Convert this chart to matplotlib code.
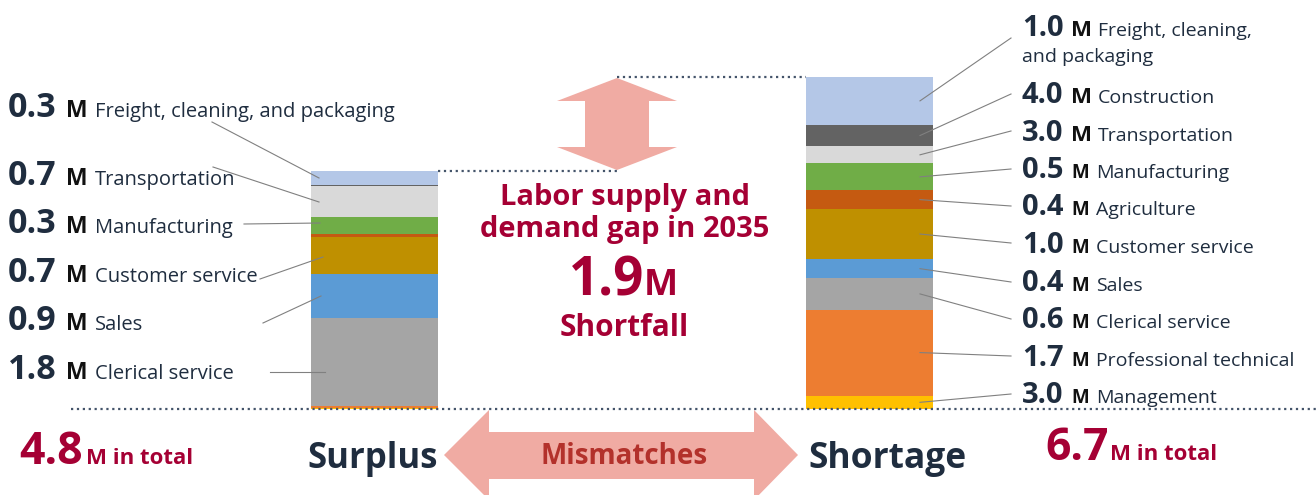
import matplotlib
matplotlib.use('Agg')
import matplotlib.pyplot as plt
from matplotlib.patches import Polygon

plt.rcParams['font.family'] = ['Open Sans', 'DejaVu Sans']

# occupations, bottom to top of each stacked bar
categories = ['Management', 'Professional technical', 'Clerical service', 'Sales',
              'Customer service', 'Agriculture', 'Manufacturing', 'Transportation',
              'Construction', 'Freight, cleaning, and packaging']
surplus = [0.02, 0.05, 1.76, 0.90, 0.75, 0.05, 0.35, 0.62, 0.03, 0.27]
shortage = [0.27, 1.74, 0.63, 0.39, 1.01, 0.38, 0.54, 0.35, 0.43, 0.97]

# labels as printed on the chart (top to bottom)
surplus_label_cats = [9, 7, 6, 4, 3, 2]
surplus_label_vals = ['0.3', '0.7', '0.3', '0.7', '0.9', '1.8']
surplus_label_names = ['Freight, cleaning, and packaging', 'Transportation', 'Manufacturing',
                       'Customer service', 'Sales', 'Clerical service']
shortage_label_cats = [9, 8, 7, 6, 5, 4, 3, 2, 1, 0]
shortage_label_vals = ['1.0', '4.0', '3.0', '0.5', '0.4', '1.0', '0.4', '0.6', '1.7', '3.0']
shortage_label_names = ['Freight, cleaning,\nand packaging', 'Construction', 'Transportation',
                        'Manufacturing', 'Agriculture', 'Customer service', 'Sales',
                        'Clerical service', 'Professional technical', 'Management']
surplus_total = '4.8'
shortage_total = '6.7'
gap = '1.9'

colors = ['#FFC000', '#ED7D31', '#A5A5A5', '#5B9BD5', '#BF9000', '#C55A11',
          '#70AD47', '#D9D9D9', '#636363', '#B4C7E7']
NAVY = '#1F2D3F'
RED = '#A50034'
PINK = '#F0ABA3'
DOT = '#44546A'
LEAD = '#808080'

W, H = 1316, 495
BASE = 409      # pixel row of the zero line
PXM = 49.5      # pixels per million


def row(r):
    return (BASE - r) / PXM


fig = plt.figure(figsize=(W / 100, H / 100), dpi=100)
ax = fig.add_axes([0, 0, 1, 1])
ax.set_xlim(0, W)
ax.set_ylim(row(H), row(0))
ax.axis('off')

bars = {'left': (374.5, surplus), 'right': (869.5, shortage)}
bw = 127
mids = {}
for side, (xc, vals) in bars.items():
    bottom = 0
    mids[side] = []
    for v, c in zip(vals, colors):
        ax.bar(xc, v, bw, bottom=bottom, color=c, linewidth=0, zorder=2)
        mids[side].append(bottom + v / 2)
        bottom += v

# dotted guide lines
top_l = sum(surplus)
top_r = sum(shortage)
ax.plot([71, W], [0, 0], ls=':', color=DOT, lw=1.6, zorder=3)
ax.plot([374.5 + bw / 2, 617], [top_l, top_l], ls=':', color=DOT, lw=1.6, zorder=3)
ax.plot([617, 869.5 - bw / 2], [top_r, top_r], ls=':', color=DOT, lw=1.6, zorder=3)

# vertical double arrow (gap)
yt, yb = row(78), row(170)
hl = 23 / PXM
va = [(617, yt), (677, yt - hl), (649, yt - hl), (649, yb + hl), (677, yb + hl),
      (617, yb), (557, yb + hl), (585, yb + hl), (585, yt - hl), (557, yt - hl)]
ax.add_patch(Polygon(va, closed=True, color=PINK, lw=0, zorder=1))

# horizontal double arrow (mismatches)
c = row(455)
ha = [(444, c), (489, row(410)), (489, row(432)), (754, row(432)), (754, row(410)),
      (798, c), (754, row(500)), (754, row(479)), (489, row(479)), (489, row(500))]
ax.add_patch(Polygon(ha, closed=True, color=PINK, lw=0, zorder=1))
ax.text(624, row(464), 'Mismatches', color='#B3312B', fontsize=20, fontweight='bold',
        ha='center', va='baseline')

# left labels
left_rows = [117, 185, 233, 282, 330, 379]
left_starts = [(212, 122), (213, 167), (244, 224), (260, 279), (263, 323), (270, 372)]
left_ends = [(319, 178), (319, 202), (320, 223), (323, 257), (321, 296), (325, 372)]
for i, (v, name) in enumerate(zip(surplus_label_vals, surplus_label_names)):
    y = row(left_rows[i])
    ax.text(8, y, v, color=NAVY, fontsize=24.5, fontweight='bold', va='baseline')
    ax.text(66, y, 'M', color='#111111', fontsize=16.5, fontweight='bold', va='baseline')
    ax.text(95, y, name, color=NAVY, fontsize=14.5, va='baseline')
    (sx, sy), (ex, ey) = left_starts[i], left_ends[i]
    ax.plot([sx, ex], [row(sy), row(ey)], color=LEAD, lw=0.8, zorder=4)

# right labels
right_rows = [36, 103, 141, 178, 215, 253, 291, 328, 366, 403]
right_starts = [38, 94, 131, 169, 206, 243, 282, 319, 356, 394]
for i, (cat, v, name) in enumerate(zip(shortage_label_cats, shortage_label_vals, shortage_label_names)):
    y = row(right_rows[i])
    ax.text(1022, y, v, color=NAVY, fontsize=21, fontweight='bold', va='baseline')
    ax.text(1071, y, 'M', color='#111111', fontsize=16 if i < 3 else 13.5,
            fontweight='bold', va='baseline')
    lines = name.split('\n')
    ax.text(1098 if i < 3 else 1096, y, lines[0], color=NAVY, fontsize=14, va='baseline')
    for k, extra in enumerate(lines[1:], start=1):
        ax.text(1022, row(right_rows[i] + 26 * k), extra, color=NAVY, fontsize=14, va='baseline')
    ax.plot([1011, 920], [row(right_starts[i]), mids['right'][cat]], color=LEAD,
            lw=0.8, zorder=4)

# center text
ax.text(625, row(205), 'Labor supply and', color=RED, fontsize=21, fontweight='bold',
        ha='center', va='baseline')
ax.text(625, row(237), 'demand gap in 2035', color=RED, fontsize=21, fontweight='bold',
        ha='center', va='baseline')
ax.text(644, row(295), gap, color=RED, fontsize=38, fontweight='bold', ha='right', va='baseline')
ax.text(644, row(295), 'M', color=RED, fontsize=26, fontweight='bold', ha='left', va='baseline')
ax.text(624, row(336), 'Shortfall', color=RED, fontsize=21.5, fontweight='bold',
        ha='center', va='baseline')

# bottom
ax.text(19, row(464), surplus_total, color=RED, fontsize=32, fontweight='bold', va='baseline')
ax.text(86, row(464), 'M in total', color=RED, fontsize=16, fontweight='bold', va='baseline')
ax.text(1045, row(460), shortage_total, color=RED, fontsize=32, fontweight='bold', va='baseline')
ax.text(1110, row(460), 'M in total', color=RED, fontsize=16, fontweight='bold', va='baseline')
ax.text(307, row(468), 'Surplus', color=NAVY, fontsize=25, fontweight='bold', va='baseline')
ax.text(808, row(468), 'Shortage', color=NAVY, fontsize=25.5, fontweight='bold', va='baseline')

fig.savefig('out.png', dpi=100)
